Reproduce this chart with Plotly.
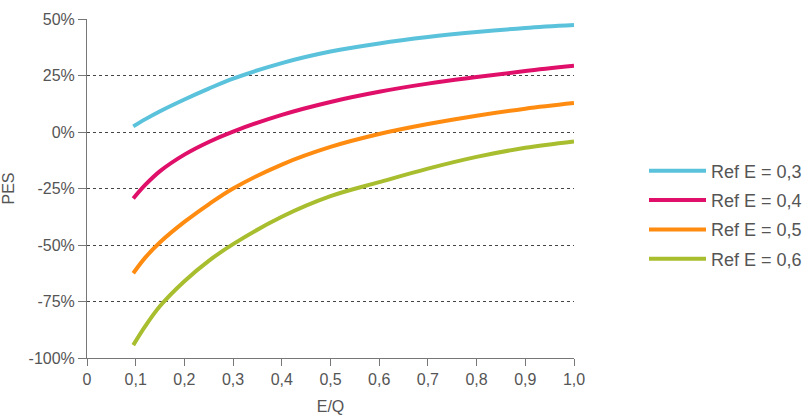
import plotly.graph_objects as go

eq = [0.095, 0.12, 0.15, 0.2, 0.25, 0.3, 0.4, 0.5, 0.6, 0.7, 0.8, 0.9, 1.0]
ref_e_03 = [2.5, 5.7, 9.2, 14.4, 19.2, 23.6, 30.5, 35.6, 39.2, 42.0, 44.2, 46.0, 47.3]
ref_e_04 = [-29.4, -23.3, -17.3, -10.0, -4.4, 0.2, 7.6, 13.3, 17.8, 21.4, 24.3, 27.0, 29.3]
ref_e_05 = [-62.5, -55.5, -48.8, -39.8, -32.0, -25.0, -14.4, -6.6, -0.9, 3.5, 7.2, 10.3, 12.8]
ref_e_06 = [-94.3, -85.8, -77.0, -66.0, -57.0, -49.6, -37.5, -28.4, -22.2, -16.2, -11.0, -7.0, -4.2]

series_names = ["Ref E = 0,3", "Ref E = 0,4", "Ref E = 0,5", "Ref E = 0,6"]
series_colors = ["#5BC2DC", "#E0106A", "#FF8C10", "#A8BE2E"]

x_tick_vals = [0, 0.1, 0.2, 0.3, 0.4, 0.5, 0.6, 0.7, 0.8, 0.9, 1.0]
x_tick_text = ["0", "0,1", "0,2", "0,3", "0,4", "0,5", "0,6", "0,7", "0,8", "0,9", "1,0"]
y_tick_vals = [-100, -75, -50, -25, 0, 25, 50]
y_tick_text = ["-100%", "-75%", "-50%", "-25%", "0%", "25%", "50%"]

font_family = "Liberation Sans, Arial, sans-serif"
text_color = "#555555"

fig = go.Figure()
for name, color, ys in zip(series_names, series_colors, [ref_e_03, ref_e_04, ref_e_05, ref_e_06]):
    fig.add_trace(go.Scatter(
        x=eq, y=ys, mode="lines", name=name, legendgroup=name,
        line=dict(color=color, width=4, shape="spline", smoothing=1.0),
    ))

fig.update_layout(
    width=807, height=419,
    margin=dict(l=87, r=233, t=19, b=61),
    paper_bgcolor="white", plot_bgcolor="white",
    font=dict(family=font_family, size=16, color=text_color),
    showlegend=True,
    legend=dict(
        xref="container", yref="container",
        x=1.016, xanchor="right", y=0.487, yanchor="middle",
        font=dict(size=18, color=text_color),
        itemwidth=57,
        tracegroupgap=3,
        bgcolor="rgba(0,0,0,0)",
    ),
)

fig.update_xaxes(
    range=[0, 1.0], automargin=False,
    tickvals=x_tick_vals, ticktext=x_tick_text,
    ticks="outside", ticklen=7, tickcolor="#777777", tickwidth=1,
    showline=True, linecolor="#777777", linewidth=1,
    showgrid=False, zeroline=False,
    title=dict(text="E/Q", font=dict(size=16, color=text_color), standoff=13),
    tickfont=dict(size=16, color=text_color),
)
fig.update_yaxes(
    range=[-100, 50], automargin=False,
    tickvals=y_tick_vals, ticktext=y_tick_text,
    ticks="outside", ticklen=8, tickcolor="#777777", tickwidth=1,
    showline=True, linecolor="#777777", linewidth=1,
    showgrid=True, gridcolor="#444444", gridwidth=1, griddash="dot",
    zeroline=False,
    title=dict(text="PES", font=dict(size=16, color=text_color), standoff=9),
    tickfont=dict(size=16, color=text_color),
)

# remove the browser's default 8px body margin so the figure fills the window exactly
fig.write_html(
    "out.html",
    config={"displayModeBar": False},
    post_script="document.body.style.margin='0px';",
)
